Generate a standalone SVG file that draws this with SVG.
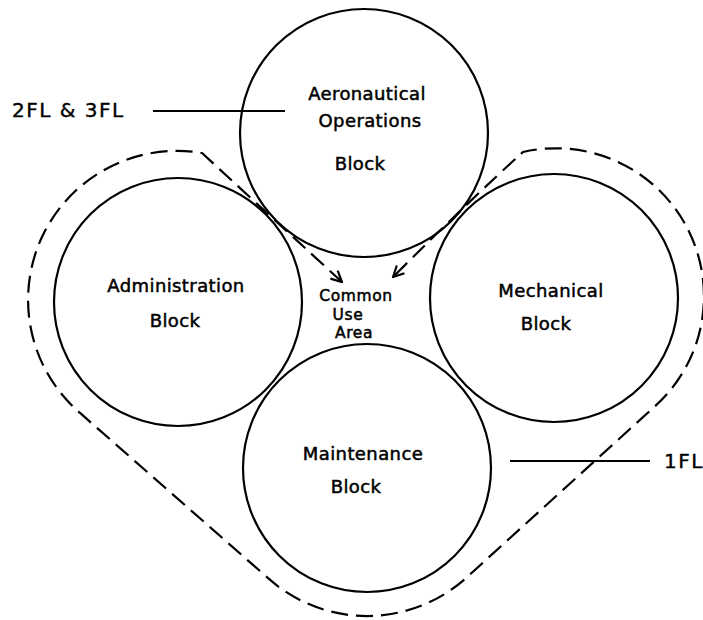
<svg xmlns="http://www.w3.org/2000/svg" width="703" height="620" viewBox="0 0 703 620">
  <style>
    .block { fill: none; stroke: #000; stroke-width: 2.2; }
    .lbl { font-family: "DejaVu Sans", "Liberation Sans", sans-serif; font-size: 18px; fill: #000; stroke: #000; stroke-width: 0.5; text-anchor: middle; letter-spacing: 0.4px; }
    .small { font-size: 15.5px; letter-spacing: 0.6px; }
    .floor { font-family: "DejaVu Sans", "Liberation Sans", sans-serif; font-size: 20px; fill: #000; stroke: #000; stroke-width: 0.4; letter-spacing: 1.5px; }
    .flow { fill: none; stroke: #000; stroke-width: 2.2; stroke-dasharray: 17 8; }
    .leader { fill: none; stroke: #000; stroke-width: 2; }
  </style>
  <defs>
    <marker id="vhead" viewBox="0 0 12 12" refX="11" refY="6" markerWidth="13" markerHeight="13" markerUnits="userSpaceOnUse" orient="auto-start-reverse">
      <path d="M1,1 L11,6 L1,11" fill="none" stroke="#000" stroke-width="2"/>
    </marker>
  </defs>

  <rect width="703" height="620" fill="#fff"/>

  <!-- circulation loop around the ground-floor blocks, ending in the common area -->
  <g id="connectors">
    <path class="flow" marker-start="url(#vhead)" marker-end="url(#vhead)"
          d="M342,282 Q280,225 202,153
             A149,149 0 0 0 80.3,413.2
             L269.3,579.2
             A148,148 0 0 0 466.6,577.5
             L653.6,407.5
             A148,148 0 0 0 523,152
             Q470,200 393,277"/>
    <line class="leader" x1="153" y1="111" x2="285" y2="111"/>
    <line class="leader" x1="510" y1="461" x2="650" y2="461"/>
  </g>

  <g id="aeronautical">
    <circle class="block" cx="364" cy="133" r="124"/>
    <text class="lbl" x="367" y="100">Aeronautical</text>
    <text class="lbl" x="370" y="127">Operations</text>
    <text class="lbl" x="360" y="170">Block</text>
  </g>

  <g id="administration">
    <circle class="block" cx="178" cy="302" r="124"/>
    <text class="lbl" x="176" y="292">Administration</text>
    <text class="lbl" x="175" y="327">Block</text>
  </g>

  <g id="mechanical">
    <circle class="block" cx="554" cy="298" r="124"/>
    <text class="lbl" x="551" y="297">Mechanical</text>
    <text class="lbl" x="546" y="330">Block</text>
  </g>

  <g id="maintenance">
    <circle class="block" cx="367" cy="468" r="124"/>
    <text class="lbl" x="363" y="460">Maintenance</text>
    <text class="lbl" x="356" y="493">Block</text>
  </g>

  <g id="common-use">
    <text class="lbl small" x="356" y="301">Common</text>
    <text class="lbl small" x="348" y="319.5">Use</text>
    <text class="lbl small" x="354" y="338">Area</text>
  </g>

  <g id="floor-labels">
    <text class="floor" x="12" y="117">2FL &amp; 3FL</text>
    <text class="floor" x="664" y="468">1FL</text>
  </g>
</svg>
